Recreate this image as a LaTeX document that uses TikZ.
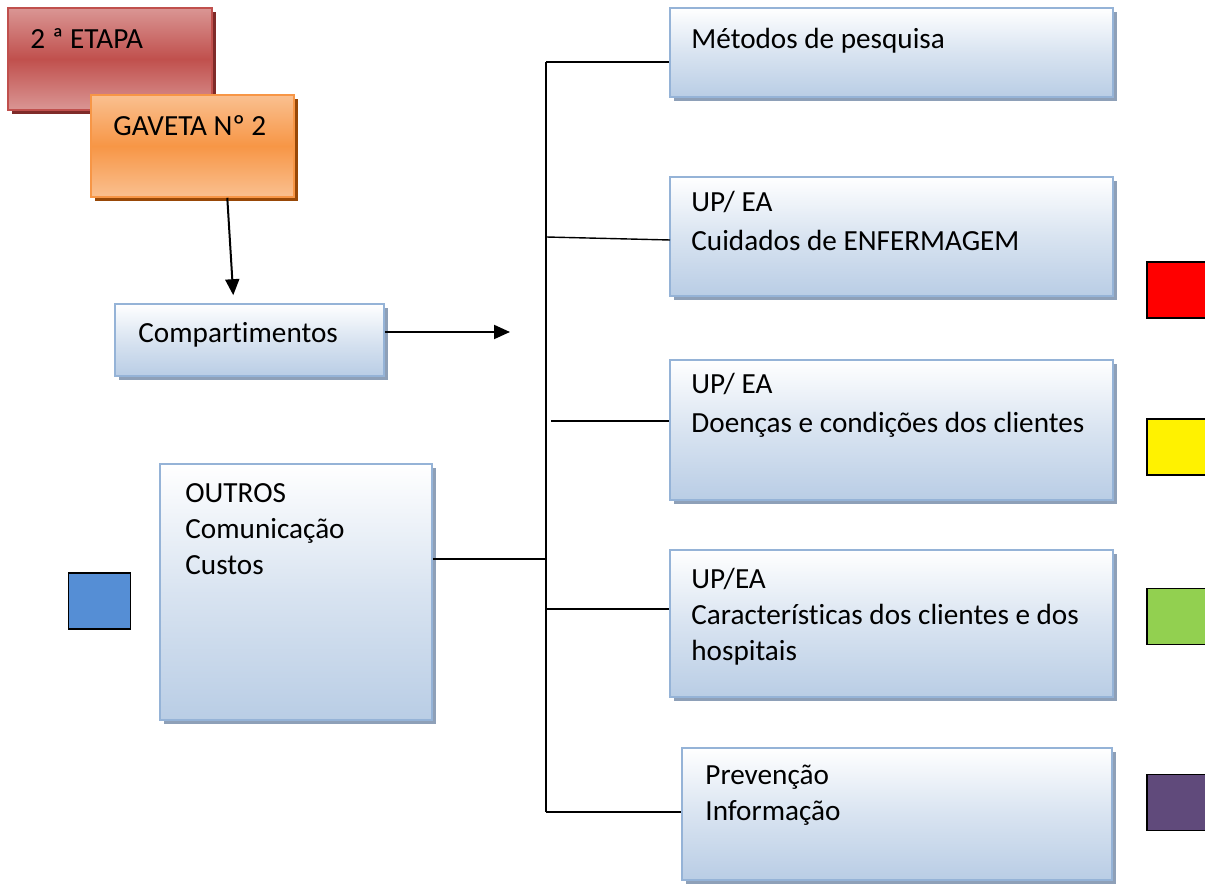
\documentclass[tikz,border=0pt]{standalone}
\usepackage{fontspec}
\setmainfont[Ligatures={NoCommon,NoContextual,NoRare},Contextuals={NoAlternate}]{Carlito}
\usetikzlibrary{shadows,arrows.meta,calc}
\definecolor{bbord}{HTML}{95B3D7}
\definecolor{bbot}{HTML}{B9CDE5}
\definecolor{bshad}{HTML}{8EA0B8}
\definecolor{rmid}{HTML}{C0504D}
\definecolor{rlight}{HTML}{DA9694}
\definecolor{rbord}{HTML}{C0504D}
\definecolor{rshad}{HTML}{7F2B29}
\definecolor{omid}{HTML}{F79646}
\definecolor{olight}{HTML}{FAC090}
\definecolor{obord}{HTML}{F79646}
\definecolor{oshad}{HTML}{984807}
\definecolor{sqblue}{HTML}{558ED5}
\definecolor{sqgreen}{HTML}{92D050}
\definecolor{sqpurple}{HTML}{604A7B}
\tikzset{
  bluebox/.style={draw=bbord, line width=0.8pt, inner sep=0pt, top color=white, bottom color=bbot, middle color=bbot!55!white,
    drop shadow={shadow xshift=2pt, shadow yshift=-2pt, fill=bshad, opacity=1}},
  redbox/.style={draw=rbord, line width=0.8pt, inner sep=0pt, top color=rlight, bottom color=rlight, middle color=rmid,
    drop shadow={shadow xshift=2pt, shadow yshift=-2pt, fill=rshad, opacity=1}},
  orangebox/.style={draw=obord, line width=0.8pt, inner sep=0pt, top color=olight, bottom color=olight, middle color=omid,
    drop shadow={shadow xshift=2pt, shadow yshift=-2pt, fill=oshad, opacity=1}},
  txt/.style={inner sep=0pt, align=left, font=\fontsize{14.6pt}{18.2pt}\selectfont, anchor=base west},
  txtwide/.style={txt, font=\fontsize{14.6pt}{19.5pt}\selectfont},
  sq/.style={draw=black, line width=0.9pt, inner sep=0pt, minimum width=31pt, minimum height=28pt},
  conn/.style={line width=0.7pt},
  arr/.style={line width=1pt, -{Triangle[length=8pt,width=7pt]}}
}
\begin{document}
\begin{tikzpicture}[x=0.5pt,y=-0.5pt]
\useasboundingbox (0,0) rectangle (1205,886);
% colour squares
\node[sq, fill=sqblue] (sqb) at (99.5,601) {};
\node[sq, fill=red] (sqr) at (1178,290) {};
\node[sq, fill=yellow] (sqy) at (1178,447) {};
\node[sq, fill=sqgreen] (sqg) at (1178,616.5) {};
\node[sq, fill=sqpurple] (sqp) at (1178,802.5) {};
% left boxes
\node[redbox, minimum width=102pt, minimum height=51pt] (etapa) at (110,59) {};
\node[txt] (tetapa) at (30,49) {2 ª ETAPA};
\node[orangebox, minimum width=101.5pt, minimum height=51pt] (gaveta) at (192.5,146) {};
\node[txt] (tgaveta) at (113,136) {GAVETA Nº 2};
\node[bluebox, minimum width=134.5pt, minimum height=36pt] (comp) at (249.5,340) {};
\node[txt] (tcomp) at (138,343) {Compartimentos};
\node[bluebox, minimum width=136pt, minimum height=128pt] (outros) at (296,592) {};
\node[txt] (toutros) at (185,575) {OUTROS\\Comunicação\\Custos};
% right boxes
\node[bluebox, minimum width=221.5pt, minimum height=44.5pt] (met) at (891.5,52.5) {};
\node[txt] (tmet) at (691,49) {Métodos de pesquisa};
\node[bluebox, minimum width=221.5pt, minimum height=59.5pt] (cuid) at (891.5,236.5) {};
\node[txtwide] (tcuid) at (691,251) {UP/ EA\\Cuidados de ENFERMAGEM};
\node[bluebox, minimum width=221.5pt, minimum height=70pt] (doen) at (891.5,430) {};
\node[txtwide] (tdoen) at (691,433) {UP/ EA\\Doenças e condições dos clientes};
\node[bluebox, minimum width=221.5pt, minimum height=73.5pt] (carac) at (891.5,623.5) {};
\node[txt] (tcarac) at (691,661) {UP/EA\\Características dos clientes e dos\\hospitais};
\node[bluebox, minimum width=215pt, minimum height=66pt] (prev) at (897,814) {};
\node[txt] (tprev) at (705,821) {Prevenção\\Informação};
% arrows
\draw[arr] ($(gaveta.south west)!0.67!(gaveta.south east)$) -- ($(comp.north west)!0.44!(comp.north east)+(0,-8)$);
\coordinate (aend) at (510,332);
\draw[arr] (comp.east |- aend) -- (aend);
% bus
\coordinate (j1) at (546,62);
\coordinate (j2) at (546,237);
\coordinate (j3) at (551,421);
\coordinate (j0) at (546,559);
\coordinate (j4) at (546,609);
\coordinate (j5) at (546,812);
\coordinate (e2) at (670,240);
\draw[conn] (j1) -- (j5);
\draw[conn] (j1) -- (met.west |- j1);
\draw[conn] (j2) -- (e2);
\draw[conn] (j3) -- (doen.west |- j3);
\draw[conn] (j4) -- (carac.west |- j4);
\draw[conn] (j5) -- (prev.west |- j5);
\draw[conn] (outros.east |- j0) -- (j0);
\end{tikzpicture}
\end{document}
